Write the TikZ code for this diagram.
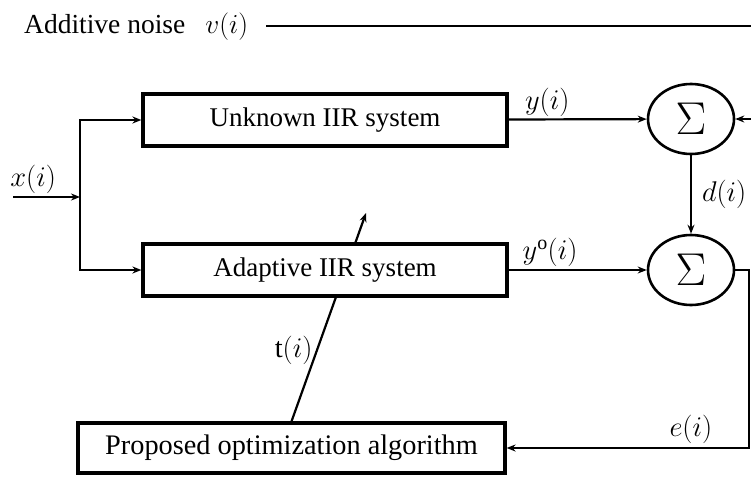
\RequirePackage{fix-cm}
\documentclass[tikz,border=0pt]{standalone}
\usepackage{fontspec}
\setmainfont{Liberation Serif}
\usetikzlibrary{arrows.meta,shapes.geometric,backgrounds}

\begin{document}
\begin{tikzpicture}[x=1pt, y=-1pt, font=\fontsize{27}{30}\selectfont,
  >={Stealth[length=9pt,width=7pt]}]
\useasboundingbox (0,0) rectangle (751,476);
\begin{scope}[every node/.style = {rectangle, draw, fill=white, line width=3.2pt, inner sep=0pt}]
\node[minimum width=364pt, minimum height=52pt] (unknown) at (325,120) {Unknown IIR system};
\node[minimum width=364pt, minimum height=52pt] (adaptive) at (325,270) {Adaptive IIR system};
\node[minimum width=427pt, minimum height=50pt, font=\fontsize{28.3}{30}\selectfont] (optim) at (291.5,448) {Proposed optimization algorithm};
\end{scope}
\begin{scope}[every node/.style = {ellipse, draw, line width=2.6pt, minimum width=86pt, minimum height=70pt, inner sep=0pt}]
\node (sum1) at (691,119) {\fontsize{46}{46}\selectfont$\Sigma$};
\node (sum2) at (691,270) {\fontsize{46}{46}\selectfont$\Sigma$};
\end{scope}
\node[anchor=west, inner sep=0pt, font=\fontsize{27.5}{30}\selectfont] (noise) at (24,27) {Additive noise\hspace{20pt}$v(i)$};
\coordinate (noisestart) at (266,26);
\coordinate (noiseend) at (751,26);
\coordinate (vin) at (751,119);
\coordinate (xin) at (13,197);
\coordinate (split) at (80,197);
\coordinate (ecorner) at (749,270);
\coordinate (tend) at (366,213);
\begin{scope}[every edge/.style = {draw, line width=2.2pt, ->}, every node/.style = {inner sep=2pt, font=\fontsize{28.5}{30}\selectfont}]
\path (noisestart) edge[-] (noiseend);
\path (vin) edge (sum1);
\path (xin) edge node[above, pos=0.3] {$x(i)$} (split);
\path (unknown) edge node[above, pos=0.28] {$y(i)$} (sum1);
\path (adaptive) edge node[above, pos=0.3] {$y^{\mathrm{o}}(i)$} (sum2);
\path (sum1) edge node[right=8pt] {$d(i)$} (sum2);
\end{scope}
\begin{scope}[on background layer]
\path (optim.north) edge[draw, line width=2.2pt, ->] node[left, pos=0.34, font=\fontsize{28.5}{30}\selectfont] {$\mathrm{t}(i)$} (tend);
\end{scope}
\draw[line width=2.2pt, ->] (split) |- (unknown);
\draw[line width=2.2pt, ->] (split) |- (adaptive);
\draw[line width=2.2pt, ->] (sum2) -- (ecorner) |- node[above, pos=0.62, font=\fontsize{28.5}{30}\selectfont] {$e(i)$} (optim);
\end{tikzpicture}
\end{document}
